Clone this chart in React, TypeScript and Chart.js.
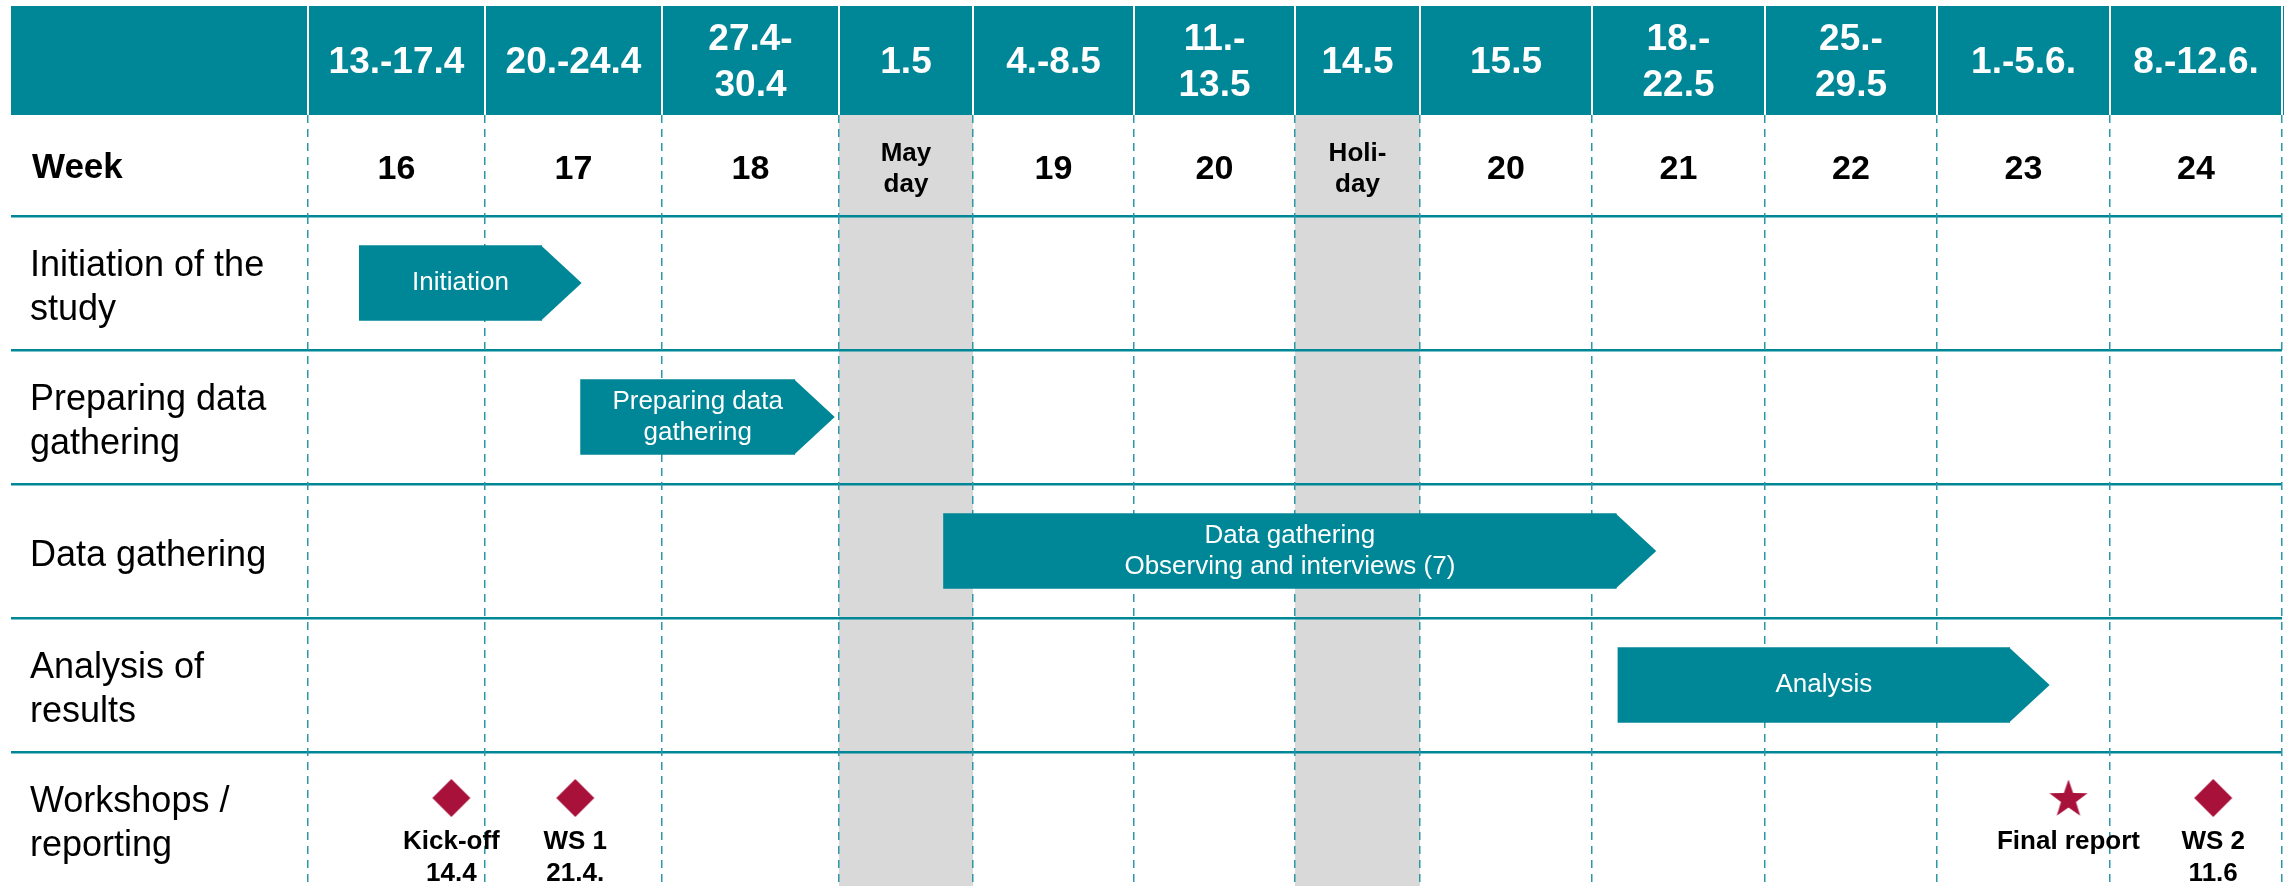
import React, { useEffect, useRef } from 'react';
import { Chart, registerables, LinearScale } from 'chart.js';

// ---------------- data ----------------
const DATE_LABELS: (string | string[])[] = [
  '13.-17.4', '20.-24.4', ['27.4-', '30.4'], '1.5', '4.-8.5', ['11.-', '13.5'],
  '14.5', '15.5', ['18.-', '22.5'], ['25.-', '29.5'], '1.-5.6.', '8.-12.6.',
];
const WEEK_LABELS: (string | string[])[] = [
  '16', '17', '18', ['May', 'day'], '19', '20', ['Holi-', 'day'], '20', '21', '22', '23', '24',
];
const WEEK_TITLE = 'Week';
const HOLIDAY_COLUMNS = [3, 6];

const ROW_LINES = [
  ['Initiation of the', 'study'],
  ['Preparing data', 'gathering'],
  ['Data gathering'],
  ['Analysis of', 'results'],
  ['Workshops /', 'reporting'],
];
const ROW_NAMES = ROW_LINES.map((l) => l.join(' '));

// task bars, in column units (column index + fraction of the column)
const TASK_START = [0.29, 1.54, 3.78, 8.15];
const TASK_END = [1.32, 2.75, 8.14, 10.42];
const TASK_TEXT = [
  ['Initiation'],
  ['Preparing data', 'gathering'],
  ['Data gathering', 'Observing and interviews (7)'],
  ['Analysis'],
];

// milestones (row: Workshops / reporting)
const MILESTONE_NAMES = ['Kick-off', 'WS 1', 'Final report', 'WS 2'];
const MILESTONE_DATES = ['14.4', '21.4.', '', '11.6'];
const MILESTONE_AT = [0.81, 1.51, 10.76, 11.6];
const MILESTONE_KIND = ['workshop', 'workshop', 'report', 'workshop'];
const MILESTONE_ROW = ROW_NAMES[4];

// ---------------- layout / style ----------------
const COLUMN_WEIGHTS = [177, 177, 177, 134, 161, 161, 125, 172, 173, 172, 173, 172];
const COL_STARTS: number[] = [];
let acc = 0;
for (const w of COLUMN_WEIGHTS) {
  COL_STARTS.push(acc);
  acc += w;
}
const COL_TOTAL = acc;
const NCOL = COLUMN_WEIGHTS.length;

const TEAL = '#008797';
const DASH_TEAL = '#2a98a7';
const GRAY = '#d9d9d9';
const CRIMSON = '#a8123a';
const FAMILY = "'Liberation Sans', Arial, Helvetica, sans-serif";
const ROW_TICK_LEN = 297;
const TIP = 40;

class ColumnScale extends LinearScale {
  static id = 'column';
  static defaults = {};
  getPixelForValue(value: number) {
    if (value === null || value === undefined || isNaN(value)) return NaN;
    const i = Math.min(NCOL - 1, Math.max(0, Math.floor(value)));
    const cum = COL_STARTS[i] + (value - i) * COLUMN_WEIGHTS[i];
    return (this as any).getPixelForDecimal(cum / COL_TOTAL);
  }
  getValueForPixel(pixel: number) {
    const cum = (this as any).getDecimalForPixel(pixel) * COL_TOTAL;
    let i = 0;
    while (i < NCOL - 1 && cum >= COL_STARTS[i + 1]) i++;
    return i + (cum - COL_STARTS[i]) / COLUMN_WEIGHTS[i];
  }
}

Chart.register(...registerables, ColumnScale as any);

const isEdge = (v: number) => Math.abs(v - Math.round(v)) < 1e-9;
const halfSteps = () => {
  const out: { value: number }[] = [];
  for (let i = 0; i <= NCOL * 2; i++) out.push({ value: i / 2 });
  return out;
};

function makeMarker(kind: string): HTMLCanvasElement {
  const c = document.createElement('canvas');
  c.width = 44;
  c.height = 86;
  const g = c.getContext('2d')!;
  g.fillStyle = CRIMSON;
  const cx = 22;
  const cy = 22;
  g.beginPath();
  if (kind === 'report') {
    for (let k = 0; k < 10; k++) {
      const r = k % 2 === 0 ? 20 : 7.9;
      const a = -Math.PI / 2 + (k * Math.PI) / 5;
      const px = cx + r * Math.cos(a);
      const py = cy + 1.5 + r * Math.sin(a);
      if (k === 0) g.moveTo(px, py);
      else g.lineTo(px, py);
    }
  } else {
    const r = 19;
    g.moveTo(cx, cy - r);
    g.lineTo(cx + r, cy);
    g.lineTo(cx, cy + r);
    g.lineTo(cx - r, cy);
  }
  g.closePath();
  g.fill();
  return c;
}

const ganttPlugin = {
  id: 'gantt',
  beforeDraw(chart: any) {
    const { ctx, chartArea, scales } = chart;
    const x = scales.x;
    const hdr = scales.xDate;
    ctx.save();
    // header band
    ctx.fillStyle = TEAL;
    ctx.fillRect(chartArea.left - ROW_TICK_LEN, hdr.top, chartArea.right - chartArea.left + ROW_TICK_LEN + 2, hdr.bottom - hdr.top);
    // holiday columns
    ctx.fillStyle = GRAY;
    for (const c of HOLIDAY_COLUMNS) {
      const x0 = x.getPixelForValue(c);
      const x1 = x.getPixelForValue(c + 1);
      ctx.fillRect(x0, hdr.bottom, x1 - x0, chartArea.bottom - hdr.bottom);
    }
    // "Week" title
    ctx.fillStyle = '#000';
    ctx.font = `bold 35px ${FAMILY}`;
    ctx.textAlign = 'left';
    ctx.textBaseline = 'middle';
    ctx.fillText(WEEK_TITLE, scales.y.left + 2, (x.top + x.bottom) / 2 + 3);
    ctx.restore();
  },
  afterDatasetsDraw(chart: any) {
    const { ctx } = chart;
    ctx.save();
    // arrow tips and bar texts
    const bars = chart.getDatasetMeta(0).data;
    bars.forEach((el: any, i: number) => {
      const p = el.getProps(['x', 'y', 'base', 'height'], true);
      const top = p.y - p.height / 2;
      const bot = p.y + p.height / 2;
      ctx.fillStyle = TEAL;
      ctx.beginPath();
      ctx.moveTo(p.x - 0.5, top);
      ctx.lineTo(p.x + TIP, p.y);
      ctx.lineTo(p.x - 0.5, bot);
      ctx.closePath();
      ctx.fill();
      const lines = TASK_TEXT[i];
      const cx = (p.base + p.x) / 2 + TIP / 4;
      const lh = 31;
      ctx.fillStyle = '#fff';
      ctx.font = `26px ${FAMILY}`;
      ctx.textAlign = 'center';
      ctx.textBaseline = 'middle';
      lines.forEach((t, k) => {
        ctx.fillText(t, cx, p.y + (k - (lines.length - 1) / 2) * lh);
      });
    });
    // milestone texts
    const pts = chart.getDatasetMeta(1).data;
    ctx.fillStyle = '#000';
    ctx.font = `bold 26px ${FAMILY}`;
    ctx.textAlign = 'center';
    ctx.textBaseline = 'middle';
    pts.forEach((el: any, i: number) => {
      const p = el.getProps(['x', 'y'], true);
      ctx.fillText(MILESTONE_NAMES[i], p.x, p.y + 23);
      if (MILESTONE_DATES[i]) ctx.fillText(MILESTONE_DATES[i], p.x, p.y + 55);
    });
    ctx.restore();
  },
};

export default function App() {
  const ref = useRef<HTMLCanvasElement | null>(null);
  useEffect(() => {
    document.body.style.margin = '0';
    document.body.style.overflow = 'hidden';
    const canvas = ref.current;
    if (!canvas) return;
    const markers = MILESTONE_KIND.map((k) => makeMarker(k));
    const chart = new Chart(canvas, {
      type: 'bar',
      data: {
        labels: ROW_NAMES,
        datasets: [
          {
            type: 'bar',
            data: TASK_START.map((s, i) => [s, TASK_END[i]]),
            backgroundColor: TEAL,
            borderWidth: 0,
            barThickness: 75,
            xAxisID: 'x',
            yAxisID: 'y',
          } as any,
          {
            type: 'scatter',
            data: MILESTONE_AT.map((v) => ({ x: v, y: MILESTONE_ROW })),
            pointStyle: markers,
            pointRadius: 20,
            xAxisID: 'x',
            yAxisID: 'y',
          } as any,
        ],
      },
      options: {
        indexAxis: 'y',
        animation: false,
        responsive: false,
        devicePixelRatio: 1,
        events: [],
        layout: { autoPadding: false, padding: { top: 6, left: 30, right: 6, bottom: 0 } },
        plugins: { legend: { display: false }, tooltip: { enabled: false } },
        scales: {
          y: {
            type: 'category',
            position: 'left',
            offset: true,
            grid: {
              offset: true,
              color: (c: any) => (c.type === 'tick' ? TEAL : 'rgba(0,0,0,0)'),
              lineWidth: 2.5,
              drawTicks: true,
              tickLength: ROW_TICK_LEN,
            },
            border: { display: false },
            ticks: {
              crossAlign: 'far',
              autoSkip: false,
              labelOffset: 5,
              color: '#000',
              font: { family: FAMILY, size: 36, lineHeight: 1.22 },
              callback: (v: any) => ROW_LINES[v],
            },
            afterFit: (s: any) => {
              s.width = 278;
              s.paddingTop = 0;
              s.paddingBottom = 0;
            },
          },
          xDate: {
            type: 'column',
            axis: 'x',
            position: 'top',
            weight: 10,
            min: 0,
            max: NCOL,
            afterBuildTicks: (s: any) => {
              s.ticks = halfSteps();
            },
            afterFit: (s: any) => {
              s.height = 109;
              s.paddingLeft = 0;
              s.paddingRight = 0;
            },
            grid: {
              drawOnChartArea: false,
              drawTicks: true,
              tickLength: 109,
              color: (c: any) => (c.tick && isEdge(c.tick.value) ? '#ffffff' : 'rgba(0,0,0,0)'),
              lineWidth: 2,
            },
            border: { display: false },
            ticks: {
              autoSkip: false,
              maxRotation: 0,
              minRotation: 0,
              crossAlign: 'center',
              padding: -80,
              color: '#ffffff',
              font: { family: FAMILY, size: 37, weight: 'bold', lineHeight: 46 / 37 },
              callback: (v: any) => (isEdge(v) ? '' : DATE_LABELS[Math.floor(v)]),
            },
          },
          x: {
            type: 'column',
            axis: 'x',
            position: 'top',
            weight: 0,
            min: 0,
            max: NCOL,
            afterBuildTicks: (s: any) => {
              s.ticks = halfSteps();
            },
            afterFit: (s: any) => {
              s.height = 101;
              s.paddingLeft = 0;
              s.paddingRight = 0;
            },
            grid: {
              drawOnChartArea: true,
              drawTicks: true,
              tickLength: 101,
              color: (c: any) => (c.tick && isEdge(c.tick.value) ? DASH_TEAL : 'rgba(0,0,0,0)'),
              lineWidth: 1.5,
              tickWidth: 1.5,
              tickColor: (c: any) => (c.tick && isEdge(c.tick.value) ? DASH_TEAL : 'rgba(0,0,0,0)'),
              tickBorderDash: [8, 6],
            },
            border: { display: false, dash: [8, 6] },
            ticks: {
              autoSkip: false,
              maxRotation: 0,
              minRotation: 0,
              crossAlign: 'center',
              padding: -70,
              color: '#000',
              font: (c: any) => {
                const v = c.tick ? c.tick.value : 0;
                const lbl = WEEK_LABELS[Math.min(NCOL - 1, Math.floor(v))];
                return Array.isArray(lbl)
                  ? { family: FAMILY, size: 26, weight: 'bold', lineHeight: 31 / 26 }
                  : { family: FAMILY, size: 34, weight: 'bold', lineHeight: 31 / 34 };
              },
              callback: (v: any) => (isEdge(v) ? '' : WEEK_LABELS[Math.floor(v)]),
            },
          },
        } as any,
      },
      plugins: [ganttPlugin],
    } as any);
    return () => chart.destroy();
  }, []);
  return (
    <div style={{ width: 2288, height: 886 }}>
      <canvas ref={ref} width={2288} height={886} style={{ display: 'block', width: 2288, height: 886 }} />
    </div>
  );
}
